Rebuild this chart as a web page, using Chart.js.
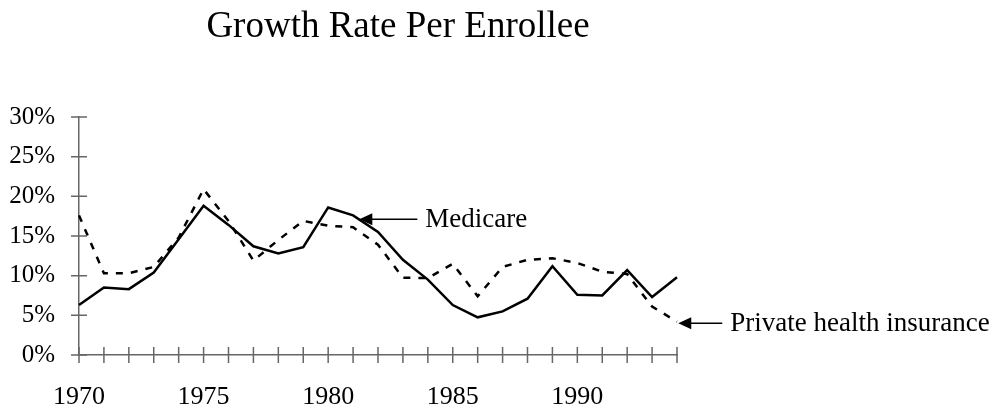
<!DOCTYPE html>
<html lang="en">
<head>
  <meta charset="UTF-8" />
  <title>Growth Rate Per Enrollee</title>
  <script src="https://cdn.jsdelivr.net/npm/chart.js"></script>
  <style>
    html, body {
      margin: 0;
      padding: 0;
      background: #fff;
    }
    .chart-box {
      width: 996px;
      height: 411px;
      position: relative;
    }
  </style>
</head>
<body>
  <div class="chart-box">
    <canvas id="chart"></canvas>
  </div>
  <script>
    // Data (percent per year)
    const years = ['1970', '1971', '1972', '1973', '1974', '1975', '1976', '1977', '1978', '1979',
                   '1980', '1981', '1982', '1983', '1984', '1985', '1986', '1987', '1988', '1989',
                   '1990', '1991', '1992', '1993', '1994'];
    const medicare = [6.3, 8.5, 8.3, 10.4, 14.6, 18.8, 16.4, 13.7, 12.8, 13.6,
                      18.6, 17.6, 15.5, 12.0, 9.5, 6.3, 4.75, 5.5, 7.1, 11.2,
                      7.6, 7.5, 10.7, 7.3, 9.8];
    const privateIns = [17.6, 10.3, 10.3, 11.1, 14.8, 20.9, 16.9, 11.9, 14.5, 16.9,
                        16.3, 16.1, 13.9, 9.75, 9.7, 11.5, 7.4, 11.1, 12.0, 12.2,
                        11.6, 10.5, 10.2, 6.1, 4.2];
    const yTicks = [0, 5, 10, 15, 20, 25, 30];
    const xLabelYears = ['1970', '1975', '1980', '1985', '1990'];

    const serif = '"Liberation Serif", "Times New Roman", serif';
    const axisColor = '#666';

    // title, crossing tick marks and the two arrow labels
    const decorations = {
      id: 'decorations',
      afterDraw(chart) {
        const ctx = chart.ctx;
        const x = chart.scales.x;
        const y = chart.scales.y;
        ctx.save();

        ctx.fillStyle = '#000';
        ctx.font = '37px ' + serif;
        ctx.textAlign = 'center';
        ctx.textBaseline = 'alphabetic';
        ctx.fillText('Growth Rate Per Enrollee', 398, 37);

        ctx.strokeStyle = axisColor;
        ctx.lineWidth = 1.5;
        ctx.beginPath();
        yTicks.forEach(v => {
          const py = y.getPixelForValue(v);
          ctx.moveTo(x.left - 8, py);
          ctx.lineTo(x.left + 8, py);
        });
        years.forEach((_, i) => {
          const px = x.getPixelForValue(i);
          ctx.moveTo(px, y.bottom - 8);
          ctx.lineTo(px, y.bottom + 8);
        });
        ctx.stroke();

        const arrow = (tipX, tipY, len, text) => {
          ctx.strokeStyle = '#000';
          ctx.fillStyle = '#000';
          ctx.lineWidth = 1.5;
          ctx.beginPath();
          ctx.moveTo(tipX + 8, tipY);
          ctx.lineTo(tipX + len, tipY);
          ctx.stroke();
          ctx.beginPath();
          ctx.moveTo(tipX, tipY);
          ctx.lineTo(tipX + 13, tipY - 6);
          ctx.lineTo(tipX + 13, tipY + 6);
          ctx.closePath();
          ctx.fill();
          ctx.font = '27px ' + serif;
          ctx.textAlign = 'left';
          ctx.textBaseline = 'middle';
          ctx.fillText(text, tipX + len + 8, tipY + 1);
        };
        arrow(x.getPixelForValue(11.25), y.getPixelForValue(17.1), 58, 'Medicare');
        arrow(x.getPixelForValue(24.05), y.getPixelForValue(4.0), 44, 'Private health insurance');

        ctx.restore();
      }
    };

    new Chart(document.getElementById('chart'), {
      type: 'line',
      data: {
        labels: years,
        datasets: [
          {
            label: 'Medicare',
            data: medicare,
            borderColor: '#000',
            borderWidth: 2.5,
            pointRadius: 0,
            tension: 0,
            fill: false
          },
          {
            label: 'Private health insurance',
            data: privateIns,
            borderColor: '#000',
            borderWidth: 2.5,
            borderDash: [7, 8],
            pointRadius: 0,
            tension: 0,
            fill: false
          }
        ]
      },
      options: {
        responsive: true,
        maintainAspectRatio: false,
        animation: false,
        events: [],
        layout: {
          padding: { top: 117, right: 319, left: 0, bottom: 0 }
        },
        scales: {
          x: {
            type: 'category',
            offset: false,
            grid: { display: false, drawTicks: false },
            border: { display: true, color: axisColor, width: 1.5 },
            ticks: {
              autoSkip: false,
              maxRotation: 0,
              padding: 27,
              color: '#000',
              font: { family: serif, size: 26 },
              callback: function(value) {
                const lab = this.getLabelForValue(value);
                return xLabelYears.includes(lab) ? lab : '';
              }
            },
            afterFit: s => { s.height = 56; }
          },
          y: {
            min: 0,
            max: 30,
            grid: { display: false, drawTicks: false },
            border: { display: true, color: axisColor, width: 1.5 },
            afterBuildTicks: s => { s.ticks = yTicks.map(v => ({ value: v })); },
            ticks: {
              padding: 24,
              color: '#000',
              font: { family: serif, size: 25 },
              callback: v => v + '%'
            },
            afterFit: s => { s.width = 79; }
          }
        },
        plugins: {
          legend: { display: false },
          title: { display: false },
          tooltip: { enabled: false }
        }
      },
      plugins: [decorations]
    });
  </script>
</body>
</html>
